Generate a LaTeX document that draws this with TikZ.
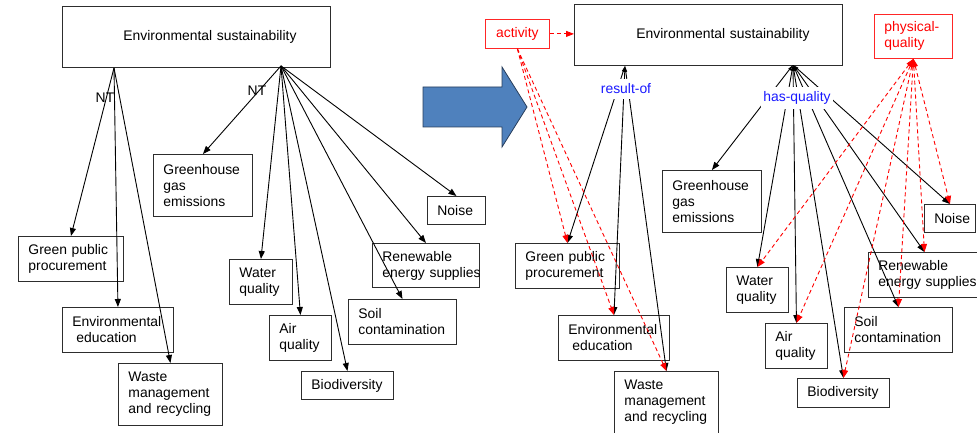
\documentclass[tikz,border=0pt]{standalone}
\usepackage{fontspec}
\setmainfont{Liberation Sans}
\usetikzlibrary{arrows.meta,calc}

\definecolor{edgegray}{RGB}{45,45,45}
\definecolor{relblue}{RGB}{25,25,255}
\definecolor{metared}{RGB}{255,0,0}
\definecolor{shiftfill}{RGB}{79,129,189}
\definecolor{shiftedge}{RGB}{40,62,92}

\begin{document}
\begin{tikzpicture}[x=1pt,y=-1pt,
  every node/.style={font=\fontsize{13.9}{16}\selectfont},
  box/.style={draw=edgegray, line width=0.9pt, anchor=north west, align=left,
    inner xsep=10pt, inner ysep=0pt,
    execute at begin node={\hyphenpenalty=10000\exhyphenpenalty=10000}},
  metabox/.style={draw=metared!85, line width=0.8pt, text=metared, anchor=north west,
    inner sep=0pt},
  tree/.style={line width=0.9pt, -{Triangle[length=8pt,width=6pt]}},
  rel/.style={line width=0.9pt,
    {Triangle[length=6pt,width=2.5pt]}-{Triangle[length=8pt,width=6pt]}},
  metalink/.style={metared, line width=0.9pt, dash pattern=on 4pt off 3pt,
    -{Triangle[length=8pt,width=6pt]}},
  metarel/.style={metared, line width=0.9pt, dash pattern=on 4pt off 3pt,
    {Triangle[length=8pt,width=5pt]}-{Triangle[length=8pt,width=6pt]}},
  ntlabel/.style={inner sep=1pt},
  rellabel/.style={text=relblue, fill=white, inner xsep=2pt, inner ysep=5pt}]

\useasboundingbox (0,0) rectangle (977,433);

% ---------------- thesaurus view (left) ----------------
\node[box, text width=248pt, minimum height=61pt] (es1) at (62,6)
  {\hspace*{51pt}\mbox{Environmental sustainability}};
\node[box, text width=79pt, minimum height=62pt] (gh1) at (153,154)
  {Greenhouse\\gas\\emissions};
\node[box, text width=85pt, minimum height=45pt] (gpp1) at (18,236)
  {\mbox{Green public}\\procurement};
\node[box, text width=91pt, minimum height=45pt] (ee1) at (62,307)
  {Environmental\\\hspace*{4pt}education};
\node[box, text width=84pt, minimum height=62pt] (wm1) at (118,363)
  {Waste\\management\\\mbox{and recycling}};
\node[box, text width=43pt, minimum height=45pt] (wq1) at (229,259)
  {Water\\quality};
\node[box, text width=42pt, minimum height=45pt] (aq1) at (269,315)
  {Air\\quality};
\node[box, text width=72pt, minimum height=28pt] (bd1) at (301,371)
  {Biodiversity};
\node[box, text width=88pt, minimum height=45pt] (sc1) at (348,299)
  {Soil\\contamination};
\node[box, text width=87pt, minimum height=44pt] (re1) at (372,243)
  {Renewable\\\mbox{energy supplies}};
\node[box, text width=38pt, minimum height=28pt] (no1) at (427,196)
  {Noise};

\coordinate (nt1) at ($(es1.south west)+(52,0)$);
\coordinate (nt2) at ($(es1.south west)+(219,-2)$);

\foreach \n in {gpp1,ee1,wm1} \draw[tree] (nt1) -- (\n.north);
\foreach \n in {gh1,wq1,aq1,bd1,sc1,re1,no1} \draw[tree] (nt2) -- (\n.north);

\node[ntlabel] (ntA) at (105,98) {NT};
\node[ntlabel] (ntB) at (257,91) {NT};

% ---------------- transformation arrow ----------------
\draw[fill=shiftfill, draw=shiftedge, line width=0.8pt]
  (423,87) -- (502,87) -- (502,67) -- (527,107) -- (502,147) -- (502,127)
  -- (423,127) -- cycle;

% ---------------- ontology view (right) ----------------
\node[box, text width=248pt, minimum height=61pt] (es2) at (574,4)
  {\hspace*{52pt}\mbox{Environmental sustainability}};
\node[metabox, minimum width=64pt, minimum height=29pt] (act) at (485,19)
  {activity};
\node[box, draw=metared!85, line width=0.8pt, text=metared, text width=58pt,
  minimum height=44pt] (pq) at (874,14) {physical-\\quality};
\node[box, text width=79pt, minimum height=62pt] (gh2) at (662,170)
  {Greenhouse\\gas\\emissions};
\node[box, text width=84pt, minimum height=45pt] (gpp2) at (515,243)
  {\mbox{Green public}\\procurement};
\node[box, text width=91pt, minimum height=45pt] (ee2) at (558,315)
  {Environmental\\\hspace*{4pt}education};
\node[box, text width=84pt, minimum height=62pt] (wm2) at (614,371)
  {Waste\\management\\\mbox{and recycling}};
\node[box, text width=42pt, minimum height=45pt] (wq2) at (726,267)
  {Water\\quality};
\node[box, text width=42pt, minimum height=45pt] (aq2) at (765,323)
  {Air\\quality};
\node[box, text width=72pt, minimum height=29pt] (bd2) at (797,378)
  {Biodiversity};
\node[box, text width=88pt, minimum height=45pt] (sc2) at (844,307)
  {Soil\\contamination};
\node[box, text width=92pt, minimum height=45pt] (re2) at (868,252)
  {Renewable\\\mbox{energy supplies}};
\node[box, text width=31pt, minimum height=28pt] (no2) at (924,204)
  {Noise};

\coordinate (ro) at ($(es2.south west)+(51,0)$);
\coordinate (hq) at ($(es2.south west)+(219,-1)$);

\foreach \n in {gpp2,ee2,wm2} \draw[rel] (ro) -- (\n.north);
\foreach \n in {gh2,wq2,aq2,bd2,sc2,re2,no2} \draw[rel] (hq) -- (\n.north);

\draw[metalink] (act.east) -- (act.east -| es2.west);
\foreach \n in {gpp2,ee2,wm2} \draw[metalink] (act.south) -- (\n.north);
\foreach \n in {wq2,aq2,bd2,sc2,re2,no2} \draw[metarel] (pq.south) -- (\n.north);

\node[rellabel] (resof) at (626,89) {result-of};
\node[rellabel] (hasq) at (797,98) {has-quality};

\end{tikzpicture}
\end{document}
